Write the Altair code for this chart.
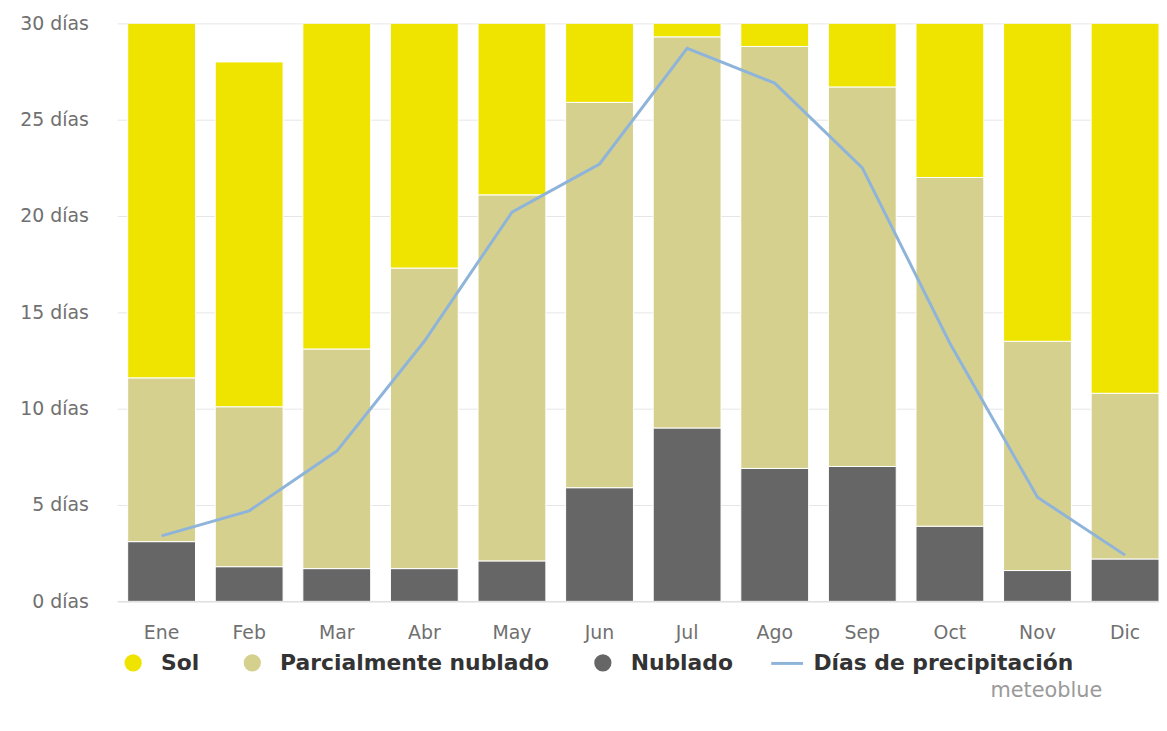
import altair as alt
import pandas as pd

months = ["Ene", "Feb", "Mar", "Abr", "May", "Jun", "Jul", "Ago", "Sep", "Oct", "Nov", "Dic"]
nublado = [3.1, 1.8, 1.7, 1.7, 2.1, 5.9, 9.0, 6.9, 7.0, 3.9, 1.6, 2.2]
parcial = [8.5, 8.3, 11.4, 15.6, 19.0, 20.0, 20.3, 21.9, 19.7, 18.1, 11.9, 8.6]
sol = [18.4, 17.9, 16.9, 12.7, 8.9, 4.1, 0.7, 1.2, 3.3, 8.0, 16.5, 19.2]
precip = [3.4, 4.7, 7.8, 13.5, 20.2, 22.7, 28.7, 26.9, 22.5, 13.4, 5.4, 2.4]

series = ["Sol", "Parcialmente nublado", "Nublado"]
colors = ["#efe400", "#d6d08f", "#666666"]
line_name = "Días de precipitación"
line_color = "#8fb4da"
y_ticks = [0, 5, 10, 15, 20, 25, 30]

rows = []
for i, m in enumerate(months):
    for k, (name, vals) in enumerate([("Nublado", nublado), ("Parcialmente nublado", parcial), ("Sol", sol)]):
        rows.append({"mes": m, "serie": name, "dias": vals[i], "orden": k})
bars_df = pd.DataFrame(rows)
line_df = pd.DataFrame({"mes": months, "dias": precip, "serie": [line_name] * len(months)})
credit_df = pd.DataFrame({"txt": ["meteoblue"]})

xscale = alt.Scale(paddingInner=0.2256, paddingOuter=0.0595, align=1)
xenc = alt.X(
    "mes:N",
    sort=months,
    scale=xscale,
    axis=alt.Axis(title=None, labelAngle=0, ticks=False, tickSize=0, labelPadding=22,
                  labelFontSize=19, domain=True, domainColor="#d9d9d9", grid=False),
)
yscale = alt.Scale(domain=[0, 30], nice=False)

legend_label = dict(labelFont="DejaVu Sans", labelFontSize=22, labelFontWeight="bold",
                    labelColor="#333333", labelLimit=500)

bars = alt.Chart(bars_df).mark_bar(stroke="white", strokeWidth=1, clip=True).encode(
    x=xenc,
    y=alt.Y(
        "dias:Q",
        stack="zero",
        scale=yscale,
        axis=alt.Axis(title=None, values=y_ticks, labelExpr="datum.value + ' días'",
                      grid=True, gridColor="#e6e6e6", domain=False, ticks=False, tickSize=0,
                      labelPadding=29, labelFontSize=19),
    ),
    color=alt.Color(
        "serie:N",
        scale=alt.Scale(domain=series, range=colors),
        legend=alt.Legend(orient="none", legendX=5, legendY=633, direction="horizontal",
                          title=None, symbolType="circle", symbolSize=300, symbolStrokeWidth=0,
                          symbolOpacity=1, columnPadding=42, labelOffset=17, **legend_label),
    ),
    order=alt.Order("orden:Q"),
)

line = alt.Chart(line_df).mark_line(strokeWidth=3, clip=True).encode(
    x=alt.X("mes:N", sort=months),
    y=alt.Y("dias:Q", scale=yscale),
    stroke=alt.Stroke(
        "serie:N",
        scale=alt.Scale(domain=[line_name], range=[line_color]),
        legend=alt.Legend(orient="none", legendX=657, legendY=627, title=None,
                          symbolType="stroke", symbolSize=1024, symbolStrokeWidth=3,
                          labelOffset=9, **legend_label),
    ),
)

credit = alt.Chart(credit_df).mark_text(
    align="right", baseline="middle", font="DejaVu Sans", fontSize=21, color="#9a9a9a"
).encode(text="txt:N", x=alt.value(992), y=alt.value(672))

chart = alt.layer(bars, line, credit).resolve_scale(color="independent").properties(
    width=1049,
    height=582,
    autosize=alt.AutoSizeParams(type="none"),
    padding={"left": 110, "top": 13, "right": 0, "bottom": 120},
).configure_view(strokeWidth=0).configure_axis(
    labelFont="DejaVu Sans", labelColor="#707070"
)

chart.save("out.html", embed_options={"renderer": "svg", "actions": False})
